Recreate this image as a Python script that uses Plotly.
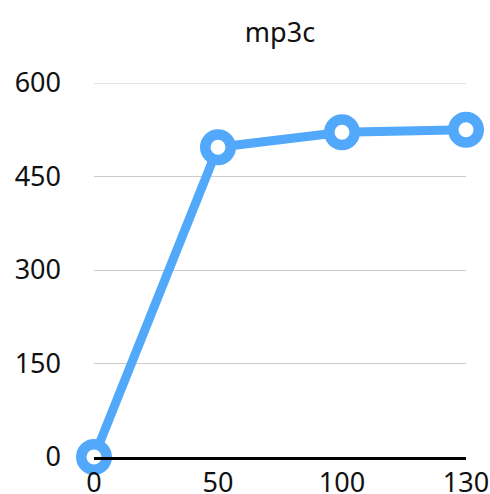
import plotly.graph_objects as go

categories = ["0", "50", "100", "130"]
values = [0, 497, 521, 525]
y_ticks = [0, 150, 300, 450, 600]

fig = go.Figure()
fig.add_trace(go.Scatter(
    x=categories, y=values, mode="lines+markers",
    line=dict(color="#52A8FA", width=9),
    marker=dict(size=25.5, color="white", line=dict(color="#52A8FA", width=10.5)),
    cliponaxis=False, showlegend=False, hoverinfo="skip",
))
fig.add_hline(y=y_ticks[-1], line_color="#cccccc", line_width=1, layer="below")
fig.update_layout(
    width=490, height=494,
    margin=dict(l=94, r=24, t=83, b=37),
    paper_bgcolor="white", plot_bgcolor="white",
    font=dict(family="Noto Sans", size=27, color="#111"),
    title=dict(text="mp3c", x=0.5, xref="paper", y=0.935, yanchor="middle",
               font=dict(size=27, color="#111")),
    xaxis=dict(type="category", range=[0, 3], showgrid=False, zeroline=False,
               showline=True, linecolor="black", linewidth=2.5,
               ticks="", ticklabelstandoff=0, automargin=False),
    yaxis=dict(range=[0, 600], tickvals=y_ticks, showgrid=True,
               gridcolor="#cccccc", gridwidth=1, zeroline=False,
               showline=False, ticks="", ticklabelstandoff=32, automargin=False),
)
fig.write_html("out.html", config={"displayModeBar": False},
               post_script="document.body.style.margin='0';")
